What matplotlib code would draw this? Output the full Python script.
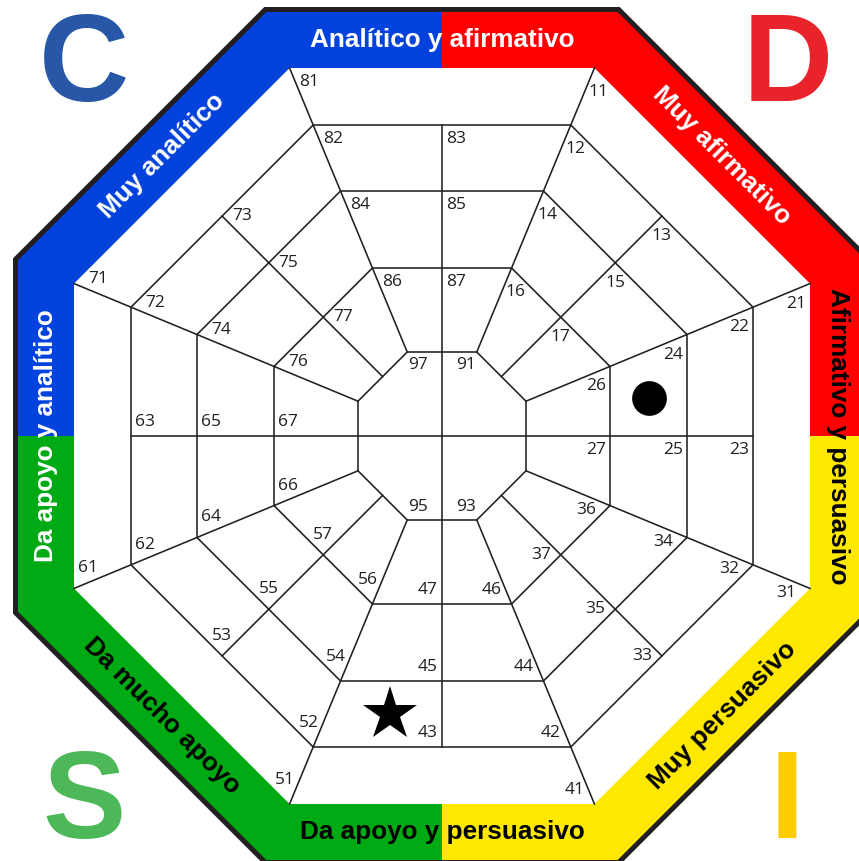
import numpy as np
import matplotlib
matplotlib.use("Agg")
import matplotlib.pyplot as plt
from matplotlib.patches import Polygon

# ---------------- data ----------------
sector_prefix = [8, 1, 2, 3, 4, 5, 6, 7]
sector_angle = [90, 45, 0, -45, -90, -135, 180, 135]
ring_apothems = [368, 311, 245, 168, 84]
center_labels = ["91", "93", "95", "97"]
center_label_angles = [67.5, -67.5, -112.5, 112.5]

band_titles = ["Analítico y afirmativo", "Muy afirmativo", "Afirmativo y persuasivo",
               "Muy persuasivo", "Da apoyo y persuasivo", "Da mucho apoyo",
               "Da apoyo y analítico", "Muy analítico"]
band_title_angles = [90, 45, 0, -45, -90, -135, 180, 135]
band_title_colors = ["white", "white", "black", "black", "black", "black", "white", "white"]

quadrant_names = ["C", "D", "I", "S"]
quadrant_start = [90, 0, -90, 180]
quadrant_band_colors = ["#0342dc", "#ff0000", "#ffe800", "#00aa14"]
letter_colors = ["#2757a6", "#e8232a", "#ffcc00", "#4cb857"]
letter_pos = [(0.098, 0.8827), (0.917, 0.8827), (0.916, 0.0267), (0.098, 0.0267)]

marker_cells = ["24", "43"]
marker_shapes = ["o", "*"]
marker_sizes = [25, 41]

# ---------------- geometry helpers ----------------
T = np.tan(np.radians(22.5))
C = np.cos(np.radians(22.5))
INK = "#231f20"


def octagon(apothem):
    ang = np.radians(22.5 + 45 * np.arange(8))
    r = apothem / C
    return np.column_stack([r * np.cos(ang), r * np.sin(ang)])


def on_edge_point(apothem, deg):
    """Point on octagon with given apothem at polar angle deg (deg is a multiple of 22.5)."""
    d = deg % 45
    r = apothem / np.cos(np.radians(d if d <= 22.5 else 45 - d))
    return np.array([r * np.cos(np.radians(deg)), r * np.sin(np.radians(deg))])


fig = plt.figure(figsize=(8.59, 8.61), dpi=100)
ax = fig.add_axes([0, 0, 1, 1])
ax.set_xlim(-442, 417)
ax.set_ylim(-425, 436)
ax.set_aspect("equal")
ax.axis("off")

# outer black border
ax.add_patch(Polygon(octagon(429), closed=True, facecolor=INK, edgecolor="none", zorder=1))

# coloured quadrant bands
A = 424
for start, col in zip(quadrant_start, quadrant_band_colors):
    pts = [(0, 0), on_edge_point(A, start), on_edge_point(A, start + 22.5),
           on_edge_point(A, start + 67.5), on_edge_point(A, start + 90)]
    ax.add_patch(Polygon(pts, closed=True, facecolor=col, edgecolor="none", zorder=2))

# white interior
ax.add_patch(Polygon(octagon(ring_apothems[0]), closed=True, facecolor="white",
                     edgecolor="none", zorder=3))

lw = 1.15
# ring octagons
for ap in ring_apothems[1:]:
    oc = octagon(ap)
    oc = np.vstack([oc, oc[:1]])
    ax.plot(oc[:, 0], oc[:, 1], color=INK, lw=lw, zorder=4, solid_capstyle="butt")

# radial lines at vertices
for k in range(8):
    a = np.radians(22.5 + 45 * k)
    r0, r1 = ring_apothems[-1] / C, ring_apothems[0] / C
    ax.plot([r0 * np.cos(a), r1 * np.cos(a)], [r0 * np.sin(a), r1 * np.sin(a)],
            color=INK, lw=lw, zorder=4)

# mid lines
for th in sector_angle:
    a = np.radians(th)
    if th % 90 == 0:
        r0 = 0
    else:
        r0 = ring_apothems[-1]
    r1 = ring_apothems[1]
    ax.plot([r0 * np.cos(a), r1 * np.cos(a)], [r0 * np.sin(a), r1 * np.sin(a)],
            color=INK, lw=lw, zorder=4)

# cell labels
lab_font = dict(family=["Open Sans", "DejaVu Sans"], fontsize=12.5, color=INK, zorder=5,
                ha="center", va="center")
A_OFF, B_MID, B_RAD = 14, 14, 20
for p, th in zip(sector_prefix, sector_angle):
    t = np.radians(th)
    n_in = np.array([-np.cos(t), -np.sin(t)])
    t_cw = np.array([np.sin(t), -np.cos(t)])
    for k in range(1, 8):
        if k == 1:
            corner = on_edge_point(ring_apothems[0], th + 22.5)
            b = B_RAD
        else:
            ap = ring_apothems[k // 2]
            if k % 2 == 0:
                corner = on_edge_point(ap, th + 22.5)
                b = B_RAD
            else:
                corner = on_edge_point(ap, th)
                b = B_MID
        pos = corner + A_OFF * n_in + b * t_cw
        ax.text(pos[0], pos[1], f"{p}{k}", **lab_font)

for lab, phi in zip(center_labels, center_label_angles):
    v = on_edge_point(ring_apothems[-1], phi)
    f = np.radians(phi)
    pos = v + np.array([-np.sign(np.cos(f)) * 11, -np.sign(np.sin(f)) * 13])
    ax.text(pos[0], pos[1], lab, **lab_font)

# band titles
for txt, th, col in zip(band_titles, band_title_angles, band_title_colors):
    t = np.radians(th)
    rad = 396
    x, y = rad * np.cos(t), rad * np.sin(t)
    rot = th - 90 if 0 <= th <= 180 else th + 90
    ax.text(x, y, txt, rotation=rot, rotation_mode="anchor", ha="center", va="center",
            family=["Liberation Sans", "DejaVu Sans"], fontweight="bold", fontsize=18.8,
            color=col, zorder=5)

# big quadrant letters
for name, col, (fx, fy) in zip(quadrant_names, letter_colors, letter_pos):
    ax.text(fx, fy, name, transform=ax.transAxes, ha="center", va="baseline",
            family=["Liberation Sans", "DejaVu Sans"], fontweight="bold", fontsize=90,
            color=col, zorder=5)

# markers placed in their cells
prefix_to_angle = dict(zip(sector_prefix, sector_angle))
for cell, shape, ms in zip(marker_cells, marker_shapes, marker_sizes):
    p, k = int(cell[0]), int(cell[1])
    th = np.radians(prefix_to_angle[p])
    j = k // 2
    rm = (ring_apothems[j] + ring_apothems[j + 1]) / 2
    d = np.array([np.cos(th), np.sin(th)])
    t_ccw = np.array([-np.sin(th), np.cos(th)])
    sgn = 1 if k % 2 == 0 else -1
    pos = rm * d + sgn * 0.45 * rm * T * t_ccw
    ax.plot(pos[0], pos[1], marker=shape, markersize=ms, color="black",
            markeredgewidth=0, zorder=6)

fig.savefig("out.png", dpi=100)
